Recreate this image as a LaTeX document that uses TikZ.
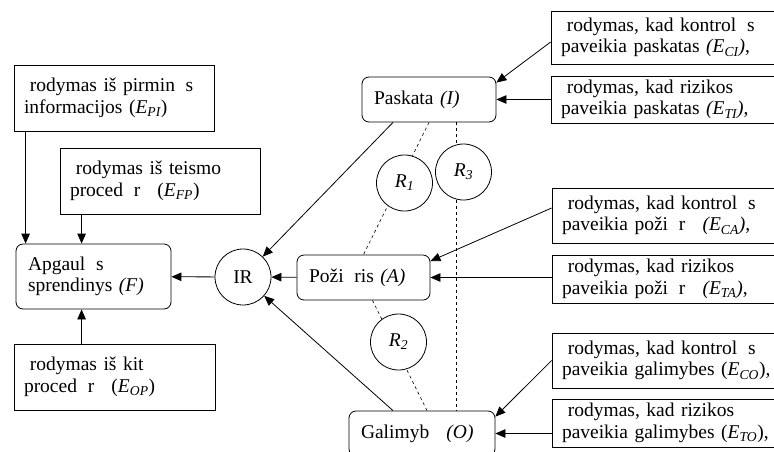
\documentclass[tikz,border=0pt]{standalone}
\usepackage{fontspec}
\setmainfont{Liberation Serif}
\usetikzlibrary{arrows.meta}

\newcommand{\miss}{\hspace{0.55em}}
\newcommand{\missI}{\hspace*{0.3em}}

\tikzset{
  evbox/.style={draw, rectangle, align=left, inner xsep=10pt, inner ysep=0pt, line width=0.8pt},
  stbox/.style={draw, rectangle, rounded corners=7pt, align=left, inner xsep=12pt, inner ysep=0pt, line width=0.8pt},
  rcirc/.style={draw, circle, fill=white, minimum size=56pt, inner sep=0pt, line width=0.8pt},
}

\begin{document}
\begin{tikzpicture}[x=1pt, y=-1pt, line width=0.8pt, >={Triangle[length=10pt,width=8.5pt]},
  font=\fontsize{19.5}{21.5}\selectfont]
\useasboundingbox (0,0) rectangle (774,451);
\clip (0,0) rectangle (774,451);

% left side
\node[evbox, text width=180pt, minimum height=66pt] (epi) at (114,98) {\missI rodymas iš pirmin\miss s\\informacijos (\textit{E\textsubscript{PI}})};
\node[evbox, text width=180pt, minimum height=66pt] (efp) at (160,181) {\missI rodymas iš teismo\\proced\miss r\miss\ (\textit{E\textsubscript{FP}})};
\node[stbox, text width=131pt, minimum height=65pt] (f) at (93.5,276.5) {Apgaul\miss s\\sprendinys \textit{(F)}};
\node[evbox, text width=181pt, minimum height=66pt] (eop) at (114.5,377) {\missI rodymas iš kit\miss\\proced\miss r\miss\ (\textit{E\textsubscript{OP}})};

% middle
\node[stbox, text width=110pt, minimum height=45pt] (pas) at (429,99.5) {Paskata \textit{(I)}};
\node[stbox, text width=109pt, minimum height=45pt] (poz) at (363.5,277.5) {Poži\miss ris \textit{(A)}};
\node[stbox, text width=122pt, minimum height=45pt] (gal) at (422,433.5) {Galimyb\miss{} \textit{(O)}};

% right side
\node[evbox, text width=219pt, minimum height=53pt] (eci) at (670.5,37.5) {\missI rodymas, kad kontrol\miss s\\paveikia paskatas \textit{(E\textsubscript{CI})},};
\node[evbox, text width=219pt, minimum height=47pt] (eti) at (670.5,99.5) {\missI rodymas, kad rizikos\\paveikia paskatas \textit{(E\textsubscript{TI})},};
\node[evbox, text width=219pt, minimum height=55pt] (eca) at (671.5,215.5) {\missI rodymas, kad kontrol\miss s\\paveikia poži\miss r\miss\ \textit{(E\textsubscript{CA})},};
\node[evbox, text width=219pt, minimum height=48pt] (eta) at (671.5,279) {\missI rodymas, kad rizikos\\paveikia poži\miss r\miss\ \textit{(E\textsubscript{TA})},};
\node[evbox, text width=219pt, minimum height=55pt] (eco) at (671.5,360.5) {\missI rodymas, kad kontrol\miss s\\paveikia galimybes (\textit{E\textsubscript{CO}}),};
\node[evbox, text width=219pt, minimum height=48pt] (eto) at (671.5,423) {\missI rodymas, kad rizikos\\paveikia galimybes (\textit{E\textsubscript{TO}}),};

% dashed links
\path[draw,dashed,line width=0.6pt] (pas.south) -- (poz.north);
\path[draw,dashed,line width=0.6pt] ([xshift=9]poz.south) -- ([xshift=5]gal.north);
\path[draw,dashed,line width=0.6pt] ([xshift=27]pas.south) -- ([xshift=27]pas.south |- gal.north);

\node[rcirc] (ir) at (243,277) {IR};
\node[rcirc] (r1) at (404.5,183) {\textit{R\textsubscript{1}}};
\node[rcirc] (r3) at (463.5,172) {\textit{R\textsubscript{3}}};
\node[rcirc] (r2) at (398.5,342) {\textit{R\textsubscript{2}}};

\path[draw,->] ([xshift=12]epi.south west) -- ([xshift=12]epi.south west |- f.north);
\path[draw,->] ([xshift=22]efp.south west) -- ([xshift=22]efp.south west |- f.north);
\path[draw,->] ([xshift=68]eop.north west) -- ([xshift=68]eop.north west |- f.south);
\path[draw,->] (ir) -- (f);

\path[draw,->] ([xshift=-36]pas.south) -- (ir);
\path[draw,->] (poz) -- (ir);
\path[draw,->] ([xshift=-29]gal.north) -- (ir);

\path[draw,->] ([yshift=-4.5]eci.west) -- ([yshift=-6]pas.north east);
\path[draw,->] (eti.west |- pas) -- (pas.east);
\path[draw,->] ([yshift=7.5]eca.west) -- ([yshift=-6.5]poz.north east);
\path[draw,->] (eta.west |- poz) -- (poz.east);
\path[draw,->] (eco.west) -- ([yshift=-6]gal.north east);
\path[draw,->] (eto.west |- gal) -- (gal.east);
\end{tikzpicture}
\end{document}
